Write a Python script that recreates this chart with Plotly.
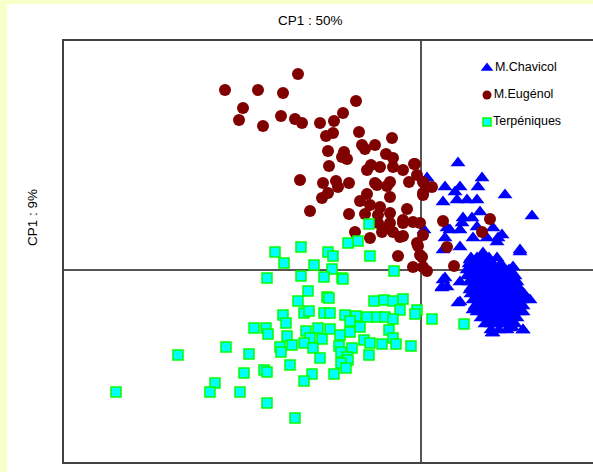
import plotly.graph_objects as go

# ---- data (PCA scores) ----
chavicol_x = [3.7, 6.1, 5.7, 0.6, 2.4, 3.9, 3.4, 4.6, 2.2, 3.6, 5.6, 8.4, 11.1, 5.9, 4.2, 5.1,
              2.9, 3.9, 5.6, 7.2, 8.1, 5.2, 6.6, 2.4, 7.6, 9.9, 3.9, 2.2, 4.9, 6.2, 7.9, 9.2,
              2.2, 2.1, 3.9, 3.7, 5.2, 6.6, 7.9, 9.2, 9.9, 10.6, 10.2, 10.2, 8.9, 7.1, 6.6, 5.2,
              5.9, 4.9, 7.6, 8.6, 7.2, 8.2, 9.2, 6.6, 8.2, 5.9, 2.6, 4.1, 2.6, 0.3,
              9.9, 2.4, 2.1, 3.9, 7.2, 10.2, 9.1, 10.9, 7.7,
              5.0, 5.6, 6.2, 6.8, 7.6,
              4.8, 5.4, 6.0, 6.6, 7.2, 8.0,
              4.6, 5.2, 5.8, 6.4, 7.0, 7.6, 8.2, 8.8,
              4.6, 5.2, 5.8, 6.4, 7.0, 7.6, 8.2, 8.8, 9.4,
              4.8, 5.4, 6.0, 6.6, 7.2, 7.8, 8.4, 9.0, 9.6,
              5.0, 5.6, 6.2, 6.8, 7.4, 8.0, 8.6, 9.2, 9.8,
              5.0, 5.6, 6.2, 6.8, 7.4, 8.0, 8.6, 9.2, 9.8, 10.3,
              5.2, 5.8, 6.4, 7.0, 7.6, 8.2, 8.8, 9.4, 10.0,
              5.4, 6.0, 6.6, 7.2, 7.8, 8.4, 9.0, 9.6, 10.2,
              5.6, 6.2, 6.8, 7.4, 8.0, 8.6, 9.2, 9.8,
              6.0, 6.6, 7.2, 7.8, 8.4, 9.0, 9.6,
              6.4, 7.0, 7.6, 8.2, 8.8, 9.4,
              7.0, 7.8, 8.6]
chavicol_y = [10.7, 9.2, 8.3, 9.2, 8.3, 8.3, 7.8, 7.0, 6.8, 7.0, 7.0, 7.5, 5.4, 5.8, 5.2, 5.2,
              4.0, 4.0, 4.3, 4.2, 3.5, 3.2, 3.2, 3.2, 2.8, 1.8, 2.3, 2.0, 1.0, 1.7, 0.5, 0.3,
              -1.0, -1.8, -1.2, -3.3, -0.3, -0.3, -0.7, -0.8, -2.0, -2.8, -4.2, -6.0, -5.8, -6.3, -5.3, -4.0,
              -3.0, -2.0, -3.7, -4.7, -5.0, -3.0, -3.0, -2.0, -1.7, -1.3, -1.7, 4.7, 4.2, 4.0,
              2.0, -0.8, -1.7, -3.2, -6.3, -6.0, -5.7, -3.0, 3.2,
              1.2, 1.2, 1.2, 1.2, 1.2,
              0.6, 0.6, 0.6, 0.6, 0.6, 0.6,
              0.0, 0.0, 0.0, 0.0, 0.0, 0.0, 0.0, 0.0,
              -0.6, -0.6, -0.6, -0.6, -0.6, -0.6, -0.6, -0.6, -0.6,
              -1.2, -1.2, -1.2, -1.2, -1.2, -1.2, -1.2, -1.2, -1.2,
              -1.8, -1.8, -1.8, -1.8, -1.8, -1.8, -1.8, -1.8, -1.8,
              -2.4, -2.4, -2.4, -2.4, -2.4, -2.4, -2.4, -2.4, -2.4, -2.4,
              -3.0, -3.0, -3.0, -3.0, -3.0, -3.0, -3.0, -3.0, -3.0,
              -3.6, -3.6, -3.6, -3.6, -3.6, -3.6, -3.6, -3.6, -3.6,
              -4.2, -4.2, -4.2, -4.2, -4.2, -4.2, -4.2, -4.2,
              -4.8, -4.8, -4.8, -4.8, -4.8, -4.8, -4.8,
              -5.4, -5.4, -5.4, -5.4, -5.4, -5.4,
              -6.0, -6.0, -6.0]

eugenol_x = [-12.3, -19.6, -16.3, -13.8, -6.5, -17.8, -18.2, -15.8, -14.0, -12.6, -11.9, -10.1, -8.7, -7.8,
             -6.2, -8.8, -9.5, -2.9, -5.9, -4.6, -5.6, -9.3, -7.7, -7.4, -7.9, -3.5, -2.8, -9.2, -5.0,
             -5.4, -4.1, -2.8, -1.8, -0.7, -0.4, -12.1, -9.8, -8.5, -7.2, -8.3, -4.6, -4.4, -3.1, -3.4,
             -1.2, 0.2, 1.1, 0.2, -9.3, -9.9, -5.4, -6.1, -3.1, -11.1, -5.1, -4.1, -1.4, -7.2, -5.6,
             -4.3, -3.1, -4.3, -3.1, -1.8, -0.8, -0.1, -6.6, -5.1, -3.9, -2.8, -1.8, 0.2, -0.4, -2.3,
             -0.1, -0.8, 0.2, -0.6, 0.2, 0.6, 2.2, 6.9, 6.1, 2.6, -0.3, 0.1, 0.6, 3.3, -3.4, -1.8, -2.1]
eugenol_y = [19.6, 18.0, 18.0, 17.7, 16.9, 16.2, 15.0, 14.4, 15.4, 15.1, 14.7, 14.7, 14.9, 15.7,
             13.8, 13.7, 13.4, 13.2, 12.5, 12.5, 12.1, 11.9, 11.8, 11.1, 11.3, 11.6, 11.2, 10.4, 10.5,
             10.0, 10.3, 10.3, 10.0, 10.6, 9.5, 9.0, 8.7, 8.9, 8.7, 8.3, 8.7, 8.5, 8.8, 8.4,
             8.8, 8.8, 8.3, 7.7, 7.7, 7.2, 7.6, 6.9, 7.3, 5.9, 6.5, 6.3, 6.1, 5.6, 5.6,
             5.5, 5.7, 4.7, 4.7, 4.7, 4.8, 4.7, 3.8, 3.2, 3.8, 3.8, 3.4, 3.5, 2.7, 1.4,
             1.5, 0.3, 0.3, 10.6, 7.5, 8.3, 4.9, 5.1, 3.8, 2.3, 2.4, 1.3, -0.1, 0.4, 4.2, 5.0, 3.3]

terpen_x = [-6.3, -7.3, -12.0, -14.6, -9.3, -8.8, -5.1, -13.7, -10.7, -8.9, -2.7, -15.4, -12.0, -9.7,
            -7.9, -7.8, -11.3, -12.3, -9.4, -9.2, -4.7, -3.7, -2.8, -1.8, -2.1, -0.4, -0.6, 1.1,
            -13.8, -11.7, -11.2, -9.7, -9.1, -7.6, -6.5, -5.4, -4.4, -3.6, -2.8, -7.1, -6.1, -13.5,
            -16.7, -15.5, -15.3, -13.4, -11.5, -10.3, -9.1, -8.1, -7.1, -5.7, -3.2, -2.8, -11.1, -9.9,
            -14.1, -12.9, -11.7, -10.8, -8.2, -8.0, -6.9, -5.1, -3.9, -2.5, -1.0, -19.5, -24.3, -17.2,
            -14.0, -7.4, -7.3, -5.2, -10.1, -8.0, -7.5, -13.1, -15.7, -15.4, -17.7, -10.9, -8.7, -11.7,
            -20.6, -30.5, -21.1, -18.1, -15.4, -12.6, -5.2, 4.3]
terpen_y = [2.9, 2.7, 2.3, 1.8, 1.8, 1.4, 1.4, 0.7, 0.5, 0.1, -0.1, -0.8, -0.6, -0.7,
            -0.8, -0.9, -2.1, -3.1, -2.7, -2.8, -3.1, -3.0, -3.1, -2.9, -4.0, -4.0, -4.4, -4.9,
            -4.5, -4.3, -4.1, -4.3, -4.3, -4.5, -4.6, -4.7, -4.7, -4.7, -4.9, -5.1, -5.7, -5.3,
            -5.8, -5.8, -6.4, -6.6, -6.1, -5.8, -5.9, -6.5, -6.2, -7.0, -6.0, -6.8, -6.8, -6.9,
            -7.7, -7.5, -7.3, -7.8, -7.6, -8.2, -7.8, -7.3, -7.4, -7.4, -7.6, -7.7, -8.5, -8.4,
            -8.2, -8.7, -9.0, -8.5, -8.8, -9.3, -9.8, -9.5, -10.0, -10.2, -10.3, -10.4, -10.4, -11.1,
            -11.3, -12.2, -12.2, -12.2, -13.3, -14.8, 4.6, -5.4]

series_names = ["M.Chavicol", "M.Eugénol", "Terpéniques"]
x_title = "CP1 : 50%"
y_title = "CP1 : 9%"

# ---- layout geometry (pixels) ----
W, H = 593, 472
L, R, T, B = 64, 0, 41, 10
PW, PH = W - L - R, H - T - B

def px(xp):
    return (xp - L) / PW

def py(yp):
    return (H - B - yp) / PH

FONT = "Liberation Sans"

fig = go.Figure()

fig.add_trace(go.Scatter(
    x=chavicol_x, y=chavicol_y, mode="markers", name=series_names[0],
    marker=dict(symbol="triangle-up", size=13, color="#0000FF", line=dict(width=0)),
    showlegend=False))
fig.add_trace(go.Scatter(
    x=eugenol_x, y=eugenol_y, mode="markers", name=series_names[1],
    marker=dict(symbol="circle", size=12, color="#800000", line=dict(width=0)),
    showlegend=False))
fig.add_trace(go.Scatter(
    x=terpen_x, y=terpen_y, mode="markers", name=series_names[2],
    marker=dict(symbol="square", size=10, color="#00FFFF", line=dict(width=1.5, color="#00FF00")),
    showlegend=False))

# custom legend on a pixel overlay axis
leg_syms = [dict(symbol="triangle-up", size=11, color="#0000FF", line=dict(width=0)),
            dict(symbol="circle", size=9, color="#800000", line=dict(width=0)),
            dict(symbol="square", size=8, color="#00FFFF", line=dict(width=1.5, color="#00FF00"))]
leg_y = [68, 95, 122]
for name, sym, yy in zip(series_names, leg_syms, leg_y):
    fig.add_trace(go.Scatter(
        x=[487], y=[yy], xaxis="x2", yaxis="y2", mode="markers+text",
        text=[name], textposition="middle right",
        textfont=dict(family=FONT, size=12.5, color="#000000"),
        marker=sym, showlegend=False, hoverinfo="skip", cliponaxis=False))

xr = [(L - 421) / 10, (W - R - 421) / 10]
yr = [(270 - (H - B)) / 10, (270 - T) / 10]

fig.update_layout(
    width=W, height=H,
    margin=dict(l=L, r=R, t=T, b=B, pad=0),
    paper_bgcolor="#F9FFC8",
    plot_bgcolor="#FFFFFF",
    showlegend=False,
    xaxis=dict(range=xr, showgrid=False, showticklabels=False, ticks="",
               zeroline=True, zerolinecolor="#555555", zerolinewidth=1.5,
               showline=True, linecolor="#404040", linewidth=2, mirror=True, fixedrange=True),
    yaxis=dict(range=yr, showgrid=False, showticklabels=False, ticks="",
               zeroline=True, zerolinecolor="#555555", zerolinewidth=1.5,
               showline=True, linecolor="#404040", linewidth=2, mirror=False, fixedrange=True),
    xaxis2=dict(range=[L, W - R], overlaying="x", visible=False, fixedrange=True),
    yaxis2=dict(range=[H - B, T], overlaying="y", visible=False, fixedrange=True),
    shapes=[dict(type="rect", xref="paper", yref="paper",
                 x0=px(7), x1=1.2, y0=-0.2, y1=py(4),
                 fillcolor="#FFFFFF", line=dict(width=0), layer="below")],
    annotations=[
        dict(text=x_title, xref="paper", yref="paper", x=px(310), y=py(20),
             showarrow=False, xanchor="center", yanchor="middle",
             font=dict(family=FONT, size=13.5, color="#000000")),
        dict(text=y_title, xref="paper", yref="paper", x=px(33), y=py(218),
             showarrow=False, xanchor="center", yanchor="middle", textangle=-90,
             font=dict(family=FONT, size=13.5, color="#000000")),
    ],
)

fig.write_html("out.html", config={"displayModeBar": False},
               post_script="document.body.style.margin='0';")
